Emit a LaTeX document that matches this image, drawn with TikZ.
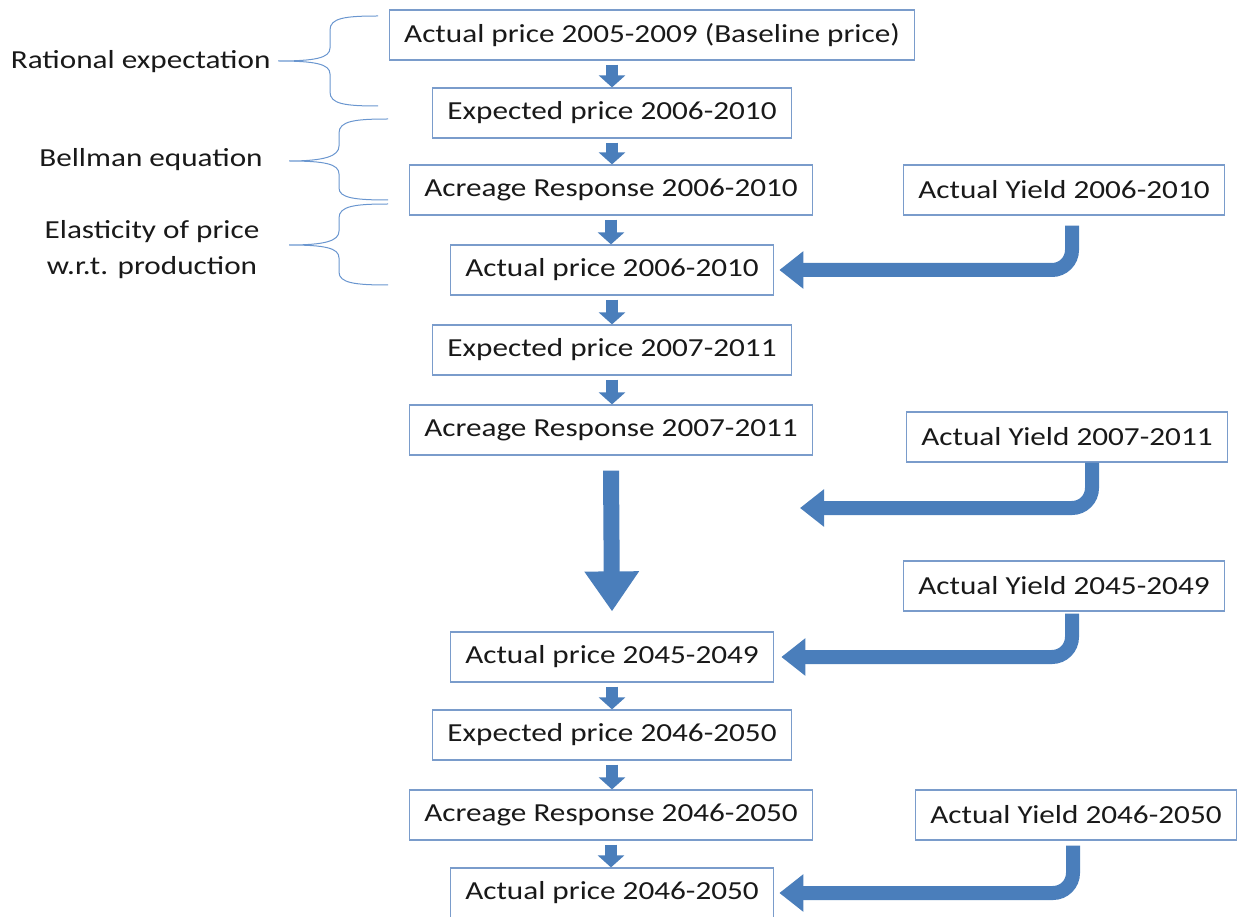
\documentclass[tikz,border=0pt]{standalone}
\usepackage{fontspec}
\setmainfont{Carlito}[FakeStretch=1.2]
\usetikzlibrary{arrows.meta}

\definecolor{boxline}{HTML}{7A9CCB}
\definecolor{arrowblue}{HTML}{4A7EBB}
\definecolor{bracecol}{HTML}{6A96CF}

\tikzset{
  flowbox/.style={draw=boxline, line width=1.2pt, minimum height=50pt,
    inner xsep=15pt, font=\fontsize{26}{30}\selectfont, text=black!90},
  sidelabel/.style={font=\fontsize{26}{36}\selectfont, text=black!90, align=center},
  smallarrow/.style={arrowblue, line width=12pt, shorten <=4pt,
    -{Triangle[length=12pt,width=26pt]}},
  bigdown/.style={arrowblue, line width=16pt, -{Triangle[length=40pt,width=52pt]}},
  yieldarrow/.style={arrowblue, line width=14pt, rounded corners=20pt,
    -{Triangle[length=24pt,width=36pt]}},
  bracket/.style={draw=bracecol, line width=1pt}
}

\begin{document}
\begin{tikzpicture}[x=1pt,y=-1pt]
\useasboundingbox (0,0) rectangle (1245,917);

% main column
\node[flowbox] (a0) at (652,35) {Actual price 2005-2009 (Baseline price)};
\node[flowbox] (e1) at (612,113) {Expected price 2006-2010};
\node[flowbox] (ar1) at (611,190) {Acreage Response 2006-2010};
\node[flowbox] (ap1) at (612,270) {Actual price 2006-2010};
\node[flowbox] (e2) at (612,350) {Expected price 2007-2011};
\node[flowbox] (ar2) at (611,430) {Acreage Response 2007-2011};
\node[flowbox] (ap3) at (612,657) {Actual price 2045-2049};
\node[flowbox] (e3) at (612,735) {Expected price 2046-2050};
\node[flowbox] (ar3) at (611,815) {Acreage Response 2046-2050};
\node[flowbox] (ap4) at (612,893) {Actual price 2046-2050};

% yields
\node[flowbox] (y1) at (1064,190) {Actual Yield 2006-2010};
\node[flowbox] (y2) at (1067,437) {Actual Yield 2007-2011};
\node[flowbox] (y3) at (1064,586) {Actual Yield 2045-2049};
\node[flowbox] (y4) at (1076,815) {Actual Yield 2046-2050};
\coordinate (gap) at (800,508);

% left labels
\node[sidelabel, anchor=east] (rat) at (274,62) {Rational expectation};
\node[sidelabel] (bell) at (151,160) {Bellman equation};
\node[sidelabel] (elas) at (152,250) {Elasticity of price\\w.r.t. production};

% braces
\draw[bracket] (378,16) .. controls (345,16) and (330,18) .. (330,30) -- (330,48)
  .. controls (330,58) and (315,61) .. (278,61)
  .. controls (315,61) and (330,64) .. (330,74) -- (330,92)
  .. controls (330,104) and (345,106) .. (378,106);
\draw[bracket] (388,119) .. controls (355,119) and (339,121) .. (339,133) -- (339,146)
  .. controls (339,156) and (325,161) .. (289,161)
  .. controls (325,161) and (339,164) .. (339,174) -- (339,188)
  .. controls (339,198) and (355,200) .. (388,200);
\draw[bracket] (388,204) .. controls (355,204) and (339,206) .. (339,218) -- (339,231)
  .. controls (339,241) and (325,245) .. (289,245)
  .. controls (325,245) and (339,248) .. (339,258) -- (339,272)
  .. controls (339,283) and (355,285) .. (388,285);

% small arrows
\draw[smallarrow] (e1.north |- a0.south) -- (e1.north);
\draw[smallarrow] (e1.south) -- (e1.south |- ar1.north);
\draw[smallarrow] (ar1.south) -- (ar1.south |- ap1.north);
\draw[smallarrow] (ap1.south) -- (ap1.south |- e2.north);
\draw[smallarrow] (e2.south) -- (e2.south |- ar2.north);
\draw[smallarrow] (ap3.south) -- (ap3.south |- e3.north);
\draw[smallarrow] (e3.south) -- (e3.south |- ar3.north);
\draw[smallarrow] (ar3.south) -- (ar3.south |- ap4.north);

% big arrow
\draw[bigdown] ([yshift=-15pt]ar2.south) -- ([yshift=20pt]ap3.north);

% yield arrows
\draw[yieldarrow] ([xshift=8pt,yshift=-10pt]y1.south) |- ([xshift=5pt]ap1.east);
\draw[yieldarrow] ([xshift=25pt]y2.south) |- (gap);
\draw[yieldarrow] ([xshift=8pt,yshift=-2pt]y3.south) |- ([xshift=7pt]ap3.east);
\draw[yieldarrow] ([xshift=-3pt,yshift=-5pt]y4.south) |- ([xshift=5pt]ap4.east);
\end{tikzpicture}
\end{document}
